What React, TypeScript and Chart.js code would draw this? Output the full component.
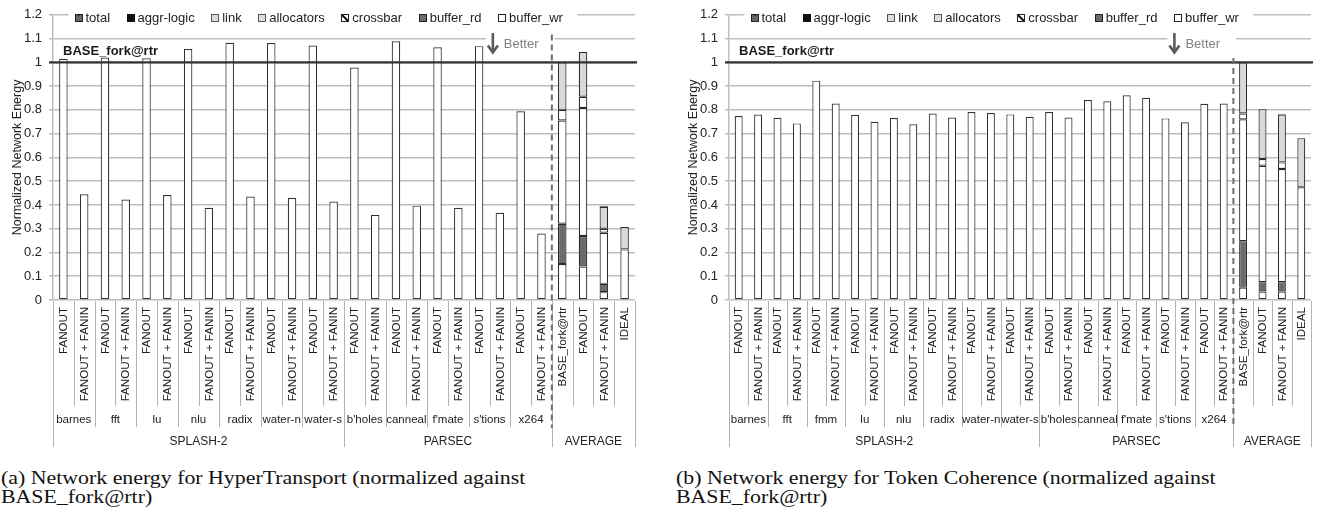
import React, { useEffect, useRef } from "react";
import { Chart, registerables } from "chart.js";

Chart.register(...registerables);

// ---------------- Data ----------------
const benchConfigs = ["FANOUT", "FANOUT + FANIN"];
const avgConfigs = ["BASE_fork@rtr", "FANOUT", "FANOUT + FANIN", "IDEAL"];
const suiteNames = ["SPLASH-2", "PARSEC", "AVERAGE"];
const legendLabels = ["total", "aggr-logic", "link", "allocators", "crossbar", "buffer_rd", "buffer_wr"];
const yTickValues = [0, 0.1, 0.2, 0.3, 0.4, 0.5, 0.6, 0.7, 0.8, 0.9, 1, 1.1, 1.2];

// (a) HyperTransport
const splashA = ["barnes", "fft", "lu", "nlu", "radix", "water-n", "water-s"];
const parsecA = ["b'holes", "canneal", "f'mate", "s'tions", "x264"];
// totals, pairs of [FANOUT, FANOUT + FANIN] per benchmark
const totalA = [
  1.015, 0.445, 1.02, 0.423, 1.017, 0.442, 1.056, 0.388, 1.082, 0.435, 1.081, 0.43, 1.071, 0.414,
  0.978, 0.358, 1.089, 0.397, 1.063, 0.388, 1.068, 0.367, 0.794, 0.28,
];
// AVERAGE breakdown: [BASE_fork@rtr, FANOUT, FANOUT + FANIN, IDEAL]
const bufferWrA = [0.151, 0.141, 0.033, 0];
const bufferRdA = [0.17, 0.128, 0.035, 0];
const crossbarA = [0.434, 0.539, 0.215, 0.213];
const allocatorsA = [0.045, 0.047, 0.017, 0];
const linkA = [0.2, 0.188, 0.092, 0.094];
const aggrLogicA = [0, 0, 0.004, 0];

// (b) Token Coherence
const splashB = ["barnes", "fft", "fmm", "lu", "nlu", "radix", "water-n", "water-s"];
const parsecB = ["b'holes", "canneal", "f'mate", "s'tions", "x264"];
const totalB = [
  0.774, 0.78, 0.767, 0.743, 0.923, 0.827, 0.779, 0.75, 0.766, 0.739, 0.785, 0.768, 0.791, 0.787,
  0.781, 0.771, 0.791, 0.768, 0.841, 0.836, 0.861, 0.851, 0.764, 0.748, 0.826, 0.827,
];
const bufferWrB = [0.052, 0.036, 0.036, 0];
const bufferRdB = [0.195, 0.039, 0.039, 0];
const crossbarB = [0.513, 0.49, 0.476, 0.474];
const allocatorsB = [0.025, 0.028, 0.028, 0];
const linkB = [0.215, 0.21, 0.201, 0.207];
const aggrLogicB = [0, 0, 0.004, 0];

// ---------------- Styling ----------------
const FONT = "'Liberation Sans', Arial, sans-serif";
const TEXT = "#222222";
const GRID = "#bdbdbd";
const SEP = "#b3b3b3";
const EDGE = "#2b2b2b";

type PanelDef = {
  splash: string[];
  parsec: string[];
  totals: number[];
  wr: number[];
  rd: number[];
  xbar: number[];
  alloc: number[];
  link: number[];
  aggr: number[];
  left: number;
  dashTop: number;
};

const panels: PanelDef[] = [
  { splash: splashA, parsec: parsecA, totals: totalA, wr: bufferWrA, rd: bufferRdA, xbar: crossbarA, alloc: allocatorsA, link: linkA, aggr: aggrLogicA, left: 0, dashTop: 1.117 },
  { splash: splashB, parsec: parsecB, totals: totalB, wr: bufferWrB, rd: bufferRdB, xbar: crossbarB, alloc: allocatorsB, link: linkB, aggr: aggrLogicB, left: 676, dashTop: 1.018 },
];

function drawLegendIcon(ctx: CanvasRenderingContext2D, kind: string, x: number, y: number, s: number) {
  ctx.save();
  ctx.lineWidth = 1;
  const bx = Math.round(x) + 0.5;
  const by = Math.round(y) + 0.5;
  if (kind === "aggr-logic") {
    ctx.fillStyle = "#111";
    ctx.fillRect(bx - 0.5, by - 0.5, s + 1, s + 1);
  } else {
    let fill = "#fff";
    if (kind === "link") fill = "#dcdcdc";
    if (kind === "buffer_rd") fill = "#6b6b6b";
    if (kind === "total") fill = "#333";
    ctx.fillStyle = fill;
    ctx.fillRect(bx, by, s, s);
    if (kind === "total") {
      ctx.fillStyle = "#fff";
      for (let i = 1; i < s; i += 2)
        for (let j = 1 + ((i - 1) / 2) % 2; j < s; j += 2) ctx.fillRect(bx + i, by + j, 1, 1);
    }
    if (kind === "allocators") {
      ctx.fillStyle = "#777";
      for (let i = 1; i < s; i += 2)
        for (let j = 1; j < s; j += 2) ctx.fillRect(bx + i, by + j, 1, 1);
    }
    if (kind === "crossbar") {
      ctx.strokeStyle = "#111";
      ctx.lineWidth = 2;
      ctx.beginPath();
      ctx.moveTo(bx, by);
      ctx.lineTo(bx + s, by + s);
      ctx.stroke();
      ctx.lineWidth = 1;
    }
    ctx.strokeStyle = kind === "link" || kind === "allocators" ? "#555" : "#222";
    ctx.strokeRect(bx, by, s, s);
  }
  ctx.restore();
}

function makeOverlay(p: PanelDef, labels: string[]) {
  const groups: { name: string; n: number }[] = [...p.splash, ...p.parsec].map((name) => ({ name, n: benchConfigs.length }));
  groups.push({ name: "", n: avgConfigs.length });
  const suiteSizes = [p.splash.length * benchConfigs.length, p.parsec.length * benchConfigs.length, avgConfigs.length];
  const nBenchBars = (p.splash.length + p.parsec.length) * benchConfigs.length;

  return {
    id: "overlay",
    afterDraw(chart: any) {
      const { ctx, chartArea: ca } = chart;
      const x = chart.scales.x;
      const y = chart.scales.y;
      const n = labels.length;
      const cx = (i: number) => x.getPixelForValue(i);
      const edge = (i: number) => (i === 0 ? ca.left : i === n ? ca.right : (cx(i - 1) + cx(i)) / 2);
      const bottom = ca.bottom;

      ctx.save();

      // ---- legend (white box over top gridline) ----
      ctx.font = `13px ${FONT}`;
      ctx.textBaseline = "middle";
      const legY = 18;
      const startX = ca.left + 21.5;
      let lx = startX;
      const items: { label: string; x: number }[] = [];
      legendLabels.forEach((lab) => {
        items.push({ label: lab, x: lx });
        lx += 11 + ctx.measureText(lab).width + 16.5;
      });
      ctx.fillStyle = "#fff";
      ctx.fillRect(startX - 6, legY - 9, lx - startX + 4, 18);
      items.forEach((it) => {
        drawLegendIcon(ctx, it.label, it.x, legY - 4, 7);
        ctx.fillStyle = TEXT;
        ctx.textAlign = "left";
        ctx.fillText(it.label, it.x + 11, legY + 0.5);
      });

      // ---- "Better" annotation ----
      const dashX = edge(nBenchBars);
      const arrowX = dashX - 59;
      const y11 = y.getPixelForValue(1.1);
      ctx.fillStyle = "#fff";
      ctx.fillRect(arrowX - 7, y11 - 4, dashX + 3 - (arrowX - 7), 8);
      ctx.strokeStyle = "#5c5c5c";
      ctx.lineWidth = 2.6;
      ctx.beginPath();
      ctx.moveTo(arrowX, 33);
      ctx.lineTo(arrowX, 52);
      ctx.stroke();
      ctx.beginPath();
      ctx.moveTo(arrowX - 5, 45.5);
      ctx.lineTo(arrowX, 52.5);
      ctx.lineTo(arrowX + 5, 45.5);
      ctx.stroke();
      ctx.fillStyle = "#7f7f7f";
      ctx.font = `13px ${FONT}`;
      ctx.textAlign = "left";
      ctx.textBaseline = "middle";
      ctx.fillText("Better", arrowX + 11, 44.5);

      // ---- BASE line at 1.0 ----
      const y1 = y.getPixelForValue(1);
      ctx.strokeStyle = "#333";
      ctx.lineWidth = 2.2;
      ctx.beginPath();
      ctx.moveTo(ca.left - 4, y1);
      ctx.lineTo(ca.right + 2, y1);
      ctx.stroke();
      ctx.fillStyle = "#1a1a1a";
      ctx.font = `bold 13px ${FONT}`;
      ctx.textBaseline = "alphabetic";
      ctx.fillText("BASE_fork@rtr", ca.left + 10, y1 - 7.5);

      // ---- category axis: separators ----
      const groupB = new Set<number>();
      let acc = 0;
      groups.forEach((g) => {
        acc += g.n;
        groupB.add(acc);
      });
      const suiteB = new Set<number>([0]);
      acc = 0;
      suiteSizes.forEach((s) => {
        acc += s;
        suiteB.add(acc);
      });
      ctx.strokeStyle = SEP;
      ctx.lineWidth = 1;
      for (let i = 0; i <= n; i++) {
        const len = suiteB.has(i) ? 147 : groupB.has(i) ? 127 : 106;
        const ex = Math.round(edge(i)) + 0.5;
        ctx.beginPath();
        ctx.moveTo(ex, bottom + 1);
        ctx.lineTo(ex, bottom + len);
        ctx.stroke();
      }

      // rotated bar labels
      ctx.fillStyle = TEXT;
      ctx.font = `11.6px ${FONT}`;
      for (let i = 0; i < n; i++) {
        ctx.save();
        ctx.translate(cx(i), bottom + 7);
        ctx.rotate(-Math.PI / 2);
        ctx.textAlign = "right";
        ctx.textBaseline = "middle";
        ctx.fillText(labels[i], 0, 0.5);
        ctx.restore();
      }

      // benchmark names
      ctx.font = `11.5px ${FONT}`;
      ctx.textAlign = "center";
      ctx.textBaseline = "middle";
      acc = 0;
      groups.forEach((g) => {
        const mid = (edge(acc) + edge(acc + g.n)) / 2;
        if (g.name) ctx.fillText(g.name, mid, bottom + 120);
        acc += g.n;
      });
      // suites
      ctx.font = `12px ${FONT}`;
      acc = 0;
      suiteSizes.forEach((s, k) => {
        const mid = (edge(acc) + edge(acc + s)) / 2;
        ctx.fillText(suiteNames[k], mid, bottom + 142);
        acc += s;
      });

      // ---- dashed separator ----
      ctx.strokeStyle = "#6f6f6f";
      ctx.lineWidth = 2;
      ctx.setLineDash([6, 4]);
      ctx.beginPath();
      ctx.moveTo(dashX, y.getPixelForValue(p.dashTop));
      ctx.lineTo(dashX, bottom + 128);
      ctx.stroke();
      ctx.setLineDash([]);

      ctx.restore();
    },
  };
}

function makeConfig(p: PanelDef): any {
  const labels: string[] = [];
  [...p.splash, ...p.parsec].forEach(() => labels.push(...benchConfigs));
  labels.push(...avgConfigs);
  const nBench = labels.length - avgConfigs.length;
  const avgOnly = (arr: number[]) => new Array(nBench).fill(null).concat(arr.map((v) => (v === 0 ? null : v)));
  const totalData = (p.totals as (number | null)[]).concat(avgConfigs.map(() => null));

  const ds = (label: string, data: (number | null)[], bg: string) => ({
    label,
    data,
    backgroundColor: bg,
    borderColor: EDGE,
    borderWidth: 1.2,
    borderSkipped: false,
    barPercentage: 0.41,
    categoryPercentage: 1,
  });

  return {
    type: "bar",
    data: {
      labels,
      datasets: [
        ds("buffer_wr", avgOnly(p.wr), "#ffffff"),
        ds("buffer_rd", avgOnly(p.rd), "#6b6b6b"),
        ds("crossbar", avgOnly(p.xbar), "#ffffff"),
        ds("allocators", avgOnly(p.alloc), "#ffffff"),
        ds("link", avgOnly(p.link), "#d9d9d9"),
        ds("aggr-logic", avgOnly(p.aggr), "#111111"),
        { ...ds("total", totalData, "#ffffff"), borderColor: "#333333" },
      ],
    },
    options: {
      animation: false,
      responsive: false,
      devicePixelRatio: 1,
      layout: { padding: { left: 0, right: 30, top: 13, bottom: 0 } },
      plugins: { legend: { display: false }, tooltip: { enabled: false } },
      scales: {
        x: {
          stacked: true,
          grid: { display: false },
          ticks: { display: false },
          border: { display: false },
          afterFit: (s: any) => {
            s.height = 155;
          },
        },
        y: {
          stacked: true,
          min: 0,
          max: 1.2,
          afterBuildTicks: (s: any) => {
            s.ticks = yTickValues.map((v) => ({ value: v }));
          },
          ticks: {
            color: TEXT,
            padding: 7,
            font: { family: FONT, size: 13 },
            callback: (v: any) => String(Number(Number(v).toFixed(1))),
          },
          grid: { color: GRID, lineWidth: 1.5, tickLength: 4 },
          border: { color: GRID, width: 1.5 },
          title: {
            display: true,
            text: "Normalized Network Energy",
            color: TEXT,
            font: { family: FONT, size: 12.5 },
            padding: { top: 10, bottom: 0 },
          },
          afterFit: (s: any) => {
            s.width = 53;
          },
        },
      },
    },
    plugins: [makeOverlay(p, labels)],
  };
}

function Panel({ def }: { def: PanelDef }) {
  const ref = useRef<HTMLCanvasElement>(null);
  useEffect(() => {
    const chart = new Chart(ref.current as HTMLCanvasElement, makeConfig(def));
    return () => chart.destroy();
  }, [def]);
  return (
    <canvas
      ref={ref}
      width={665}
      height={455}
      style={{ position: "absolute", left: def.left, top: 0, width: 665, height: 455 }}
    />
  );
}

const captionStyle: React.CSSProperties = {
  position: "absolute",
  top: 468,
  fontFamily: "'Liberation Serif', 'Times New Roman', serif",
  fontSize: 19,
  lineHeight: "19px",
  color: "#111",
  whiteSpace: "nowrap",
  transform: "scaleX(1.15)",
  transformOrigin: "left top",
};

export default function App() {
  return (
    <div style={{ position: "absolute", left: 0, top: 0, width: 1335, height: 519, background: "#fff" }}>
      <Panel def={panels[0]} />
      <Panel def={panels[1]} />
      <div style={{ ...captionStyle, left: 1 }}>
        <div>(a) Network energy for HyperTransport (normalized against</div>
        <div>BASE_fork@rtr)</div>
      </div>
      <div style={{ ...captionStyle, left: 676 }}>
        <div>(b) Network energy for Token Coherence (normalized against</div>
        <div>BASE_fork@rtr)</div>
      </div>
    </div>
  );
}
